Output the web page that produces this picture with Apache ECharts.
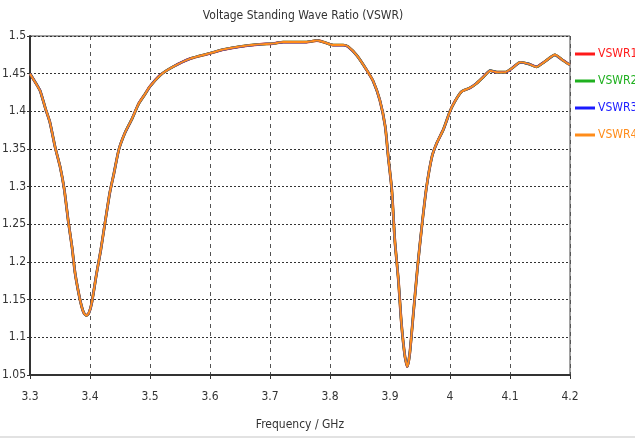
<!DOCTYPE html>
<html>
<head>
<meta charset="utf-8">
<script src="https://cdn.jsdelivr.net/npm/echarts@6/dist/echarts.min.js"></script>
<style>
  html, body { margin: 0; padding: 0; background: #fff; }
  #chart { width: 635px; height: 439px; }
</style>
</head>
<body>
<div id="chart"></div>
<script>
// frequency (GHz) and VSWR; the four traces overlap
const freq = [
  3.300, 3.310, 3.317, 3.326, 3.333, 3.342, 3.350, 3.357, 3.364, 3.370,
  3.375, 3.381, 3.386, 3.390, 3.394, 3.398, 3.403, 3.411, 3.418, 3.425,
  3.433, 3.440, 3.448, 3.458, 3.470, 3.481, 3.491, 3.500, 3.517, 3.538,
  3.567, 3.600, 3.622, 3.650, 3.683, 3.705, 3.722, 3.745, 3.761, 3.778,
  3.789, 3.805, 3.822, 3.830, 3.845, 3.861, 3.872, 3.883, 3.892, 3.897,
  3.903, 3.908, 3.914, 3.919, 3.925, 3.929, 3.933, 3.939, 3.946, 3.953,
  3.961, 3.970, 3.978, 3.989, 4.000, 4.008, 4.019, 4.033, 4.044, 4.056,
  4.067, 4.078, 4.092, 4.103, 4.117, 4.131, 4.144, 4.158, 4.175, 4.186,
  4.197, 4.200
]
const vswr = [
  1.450, 1.437, 1.427, 1.403, 1.386, 1.352, 1.327, 1.297, 1.253, 1.220,
  1.186, 1.159, 1.141, 1.132, 1.129, 1.132, 1.146, 1.185, 1.216, 1.252,
  1.292, 1.318, 1.349, 1.371, 1.390, 1.410, 1.422, 1.433, 1.448, 1.459,
  1.470, 1.477, 1.482, 1.486, 1.489, 1.490, 1.492, 1.492, 1.492, 1.494,
  1.492, 1.488, 1.488, 1.486, 1.474, 1.455, 1.440, 1.415, 1.380, 1.340,
  1.296, 1.229, 1.176, 1.119, 1.074, 1.061, 1.079, 1.132, 1.194, 1.247,
  1.300, 1.340, 1.358, 1.376, 1.400, 1.413, 1.426, 1.431, 1.437, 1.446,
  1.454, 1.452, 1.452, 1.457, 1.465, 1.463, 1.459, 1.466, 1.475, 1.469,
  1.463, 1.462
]
const seriesNames = ['VSWR1', 'VSWR2', 'VSWR3', 'VSWR4']
const seriesColors = ['#ff1a1a', '#1fb01f', '#1a1aff', '#ff8c1a']
const lineWidths = [2.8, 2.6, 2.2, 2]

const FONT = '"DejaVu Sans Condensed", "DejaVu Sans"'
const chart = echarts.init(document.getElementById('chart'))
const pts = freq.map((f, i) => [f, vswr[i]])

chart.setOption({
  backgroundColor: '#fff',
  animation: false,
  title: {
    text: 'Voltage Standing Wave Ratio (VSWR)',
    left: 298,
    textAlign: 'center',
    top: 5,
    textStyle: { fontFamily: FONT, fontSize: 12, fontWeight: 'normal', color: '#333' },
  },
  legend: {
    orient: 'vertical',
    left: 575,
    top: 48,
    padding: 0,
    itemWidth: 20,
    itemHeight: 3,
    itemGap: 15,
    icon: 'rect',
    data: seriesNames.map((n, i) => ({
      name: n,
      textStyle: { color: seriesColors[i] },
    })),
    textStyle: { fontFamily: FONT, fontSize: 12, padding: [0, 0, 0, -2] },
  },
  grid: {
    left: 30, right: 65, top: 36, bottom: 64,
    outerBoundsMode: 'none',
    show: true,
    borderColor: '#444',
    borderWidth: 1,
  },
  xAxis: {
    type: 'value',
    min: 3.3, max: 4.2, interval: 0.1,
    name: 'Frequency / GHz',
    nameLocation: 'middle',
    nameGap: 44,
    nameTextStyle: { fontFamily: FONT, fontSize: 12, color: '#333' },
    axisLine: { onZero: false, lineStyle: { color: '#333', width: 2 } },
    axisTick: { show: true, length: 4, lineStyle: { color: '#333' } },
    axisLabel: {
      fontFamily: FONT, fontSize: 12, color: '#333', margin: 16,
      formatter: v => String(+v.toFixed(1)),
    },
    splitLine: { show: true, lineStyle: { color: '#555', type: [4, 4], width: 1 } },
  },
  yAxis: {
    type: 'value',
    min: 1.05, max: 1.5, interval: 0.05,
    axisLine: { show: true, onZero: false, lineStyle: { color: '#333', width: 2 } },
    axisTick: { show: true, length: 3, lineStyle: { color: '#333' } },
    axisLabel: {
      fontFamily: FONT, fontSize: 12, color: '#333', margin: 4,
      formatter: v => String(+v.toFixed(2)),
    },
    splitLine: { show: true, lineStyle: { color: '#333', type: [2, 2], width: 1 } },
  },
  graphic: [{
    type: 'line',
    shape: { x1: 0, y1: 437, x2: 635, y2: 437 },
    style: { stroke: '#e2e2e2', lineWidth: 2 },
    silent: true,
  }],
  series: seriesNames.map((n, i) => ({
    name: n,
    type: 'line',
    data: pts,
    showSymbol: false,
    smooth: 0.2,
    lineStyle: { color: seriesColors[i], width: lineWidths[i] },
    itemStyle: { color: seriesColors[i] },
  })),
})
</script>
</body>
</html>
